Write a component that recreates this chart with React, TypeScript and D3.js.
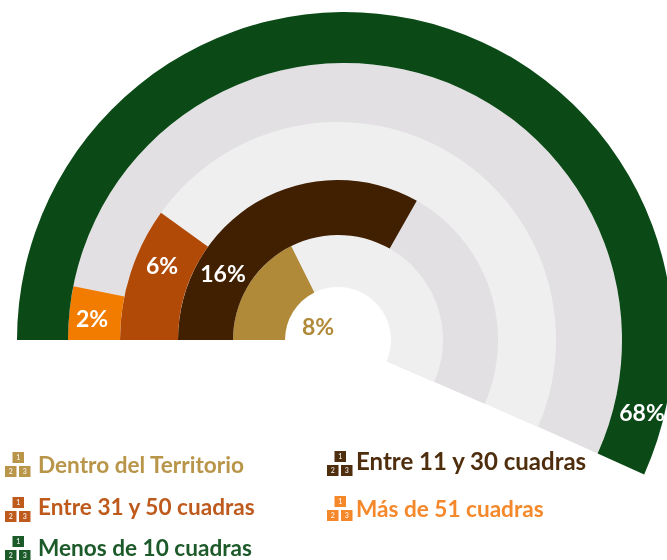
import React from "react";
import * as d3 from "d3";

const W = 667;
const H = 560;

const categories = ["Dentro del Territorio", "Entre 11 y 30 cuadras", "Entre 31 y 50 cuadras", "Más de 51 cuadras", "Menos de 10 cuadras"];
const values = [8, 16, 6, 2, 68];
// Infographic: the drawn sweep is not proportional to the value, so it is read separately.
const sweepDegrees = [63.5, 119.5, 35.7, 11.5, 204.2];
const colors = ["#b08a38", "#402000", "#b24a07", "#f27c00", "#0b4a17"];
const legendColors = ["#b8954a", "#4f2d0e", "#bd5a1e", "#f4882a", "#1d5a2a"];
const labelColors = ["#b08a38", "#ffffff", "#ffffff", "#ffffff", "#ffffff"];
const innerRadii = [53, 105, 160, 218, 277];
const outerRadii = [105, 160, 218, 270, 328];
const trackOuterRadii = [105, 160, 218, 277];
const trackColors = ["#efeff0", "#e2e0e2", "#efeff0", "#e2e0e2"];
const labelPositions = [[318, 327], [223, 274], [162, 266], [92, 319], [642, 413]];
const legendPositions = [[5, 452, 38, 473], [327, 451, 356, 470], [5, 497, 38, 515], [327, 496, 356, 517], [5, 536, 38, 556]];
const legendFontSizes = [22.6, 24, 22.6, 22.6, 22.6];

const CX = 338;
const CY = 340;
const OUTER_CX = 345;
const TRACK_SWEEP = 203.5;
const FONT = "Lato, 'Open Sans', sans-serif";

const rad = d3.scaleLinear().domain([0, 360]).range([0, 2 * Math.PI]);
const START = -Math.PI / 2;

function sector(inner: number, outer: number, sweep: number) {
  return d3.arc()({ innerRadius: inner, outerRadius: outer, startAngle: START, endAngle: START + rad(sweep) } as any) as string;
}

function BlockIcon({ x, y, color }: { x: number; y: number; color: string }) {
  const blocks = [[7.5, 0, "1"], [0, 14, "2"], [14, 14, "3"]] as const;
  return (
    <g transform={`translate(${x},${y})`}>
      {blocks.map(([bx, by, n]) => (
        <g key={n}>
          <rect x={bx} y={by} width={11.5} height={11} fill={color} />
          <text x={bx + 5.7} y={by + 8} fontSize={7} fontWeight={700} textAnchor="middle" fontFamily={FONT} fill="#ffffff" opacity={0.8}>{n}</text>
        </g>
      ))}
    </g>
  );
}

export default function App() {
  return (
    <svg width={W} height={H} viewBox={`0 0 ${W} ${H}`} style={{ position: "absolute", left: 0, top: 0, background: "#fff" }}>
      <defs>
        <filter id="soft" x="-5%" y="-20%" width="110%" height="140%">
          <feGaussianBlur stdDeviation="0.45" />
        </filter>
      </defs>
      {/* grey tracks, painted from the outside in */}
      {trackOuterRadii.map((r, i) => i).reverse().map((i) => (
        <path
          key={`track-${i}`}
          d={sector(0, trackOuterRadii[i], i === 3 ? 204.2 : TRACK_SWEEP)}
          transform={`translate(${i === 3 ? OUTER_CX : CX},${CY})`}
          fill={trackColors[i]}
        />
      ))}
      <circle cx={CX} cy={CY} r={innerRadii[0]} fill="#ffffff" />
      {/* value arcs */}
      {values.map((v, i) => (
        <path
          key={categories[i]}
          d={sector(innerRadii[i], outerRadii[i], sweepDegrees[i])}
          transform={`translate(${i === 4 ? OUTER_CX : CX},${CY})`}
          fill={colors[i]}
        />
      ))}
      {/* value labels */}
      <g filter="url(#soft)">
        {values.map((v, i) => (
          <text key={`l-${i}`} x={labelPositions[i][0]} y={labelPositions[i][1]} dy="0.35em" textAnchor="middle" fontFamily={FONT} fontSize={23} fontWeight={700} fill={labelColors[i]}>
            {`${v}%`}
          </text>
        ))}
      </g>
      {/* legend */}
      <g filter="url(#soft)">
        {categories.map((c, i) => (
          <g key={`lg-${i}`}>
            <BlockIcon x={legendPositions[i][0]} y={legendPositions[i][1]} color={legendColors[i]} />
            <text x={legendPositions[i][2]} y={legendPositions[i][3]} fontFamily={FONT} fontSize={legendFontSizes[i]} fontWeight={700} fill={legendColors[i]}>{c}</text>
          </g>
        ))}
      </g>
    </svg>
  );
}
